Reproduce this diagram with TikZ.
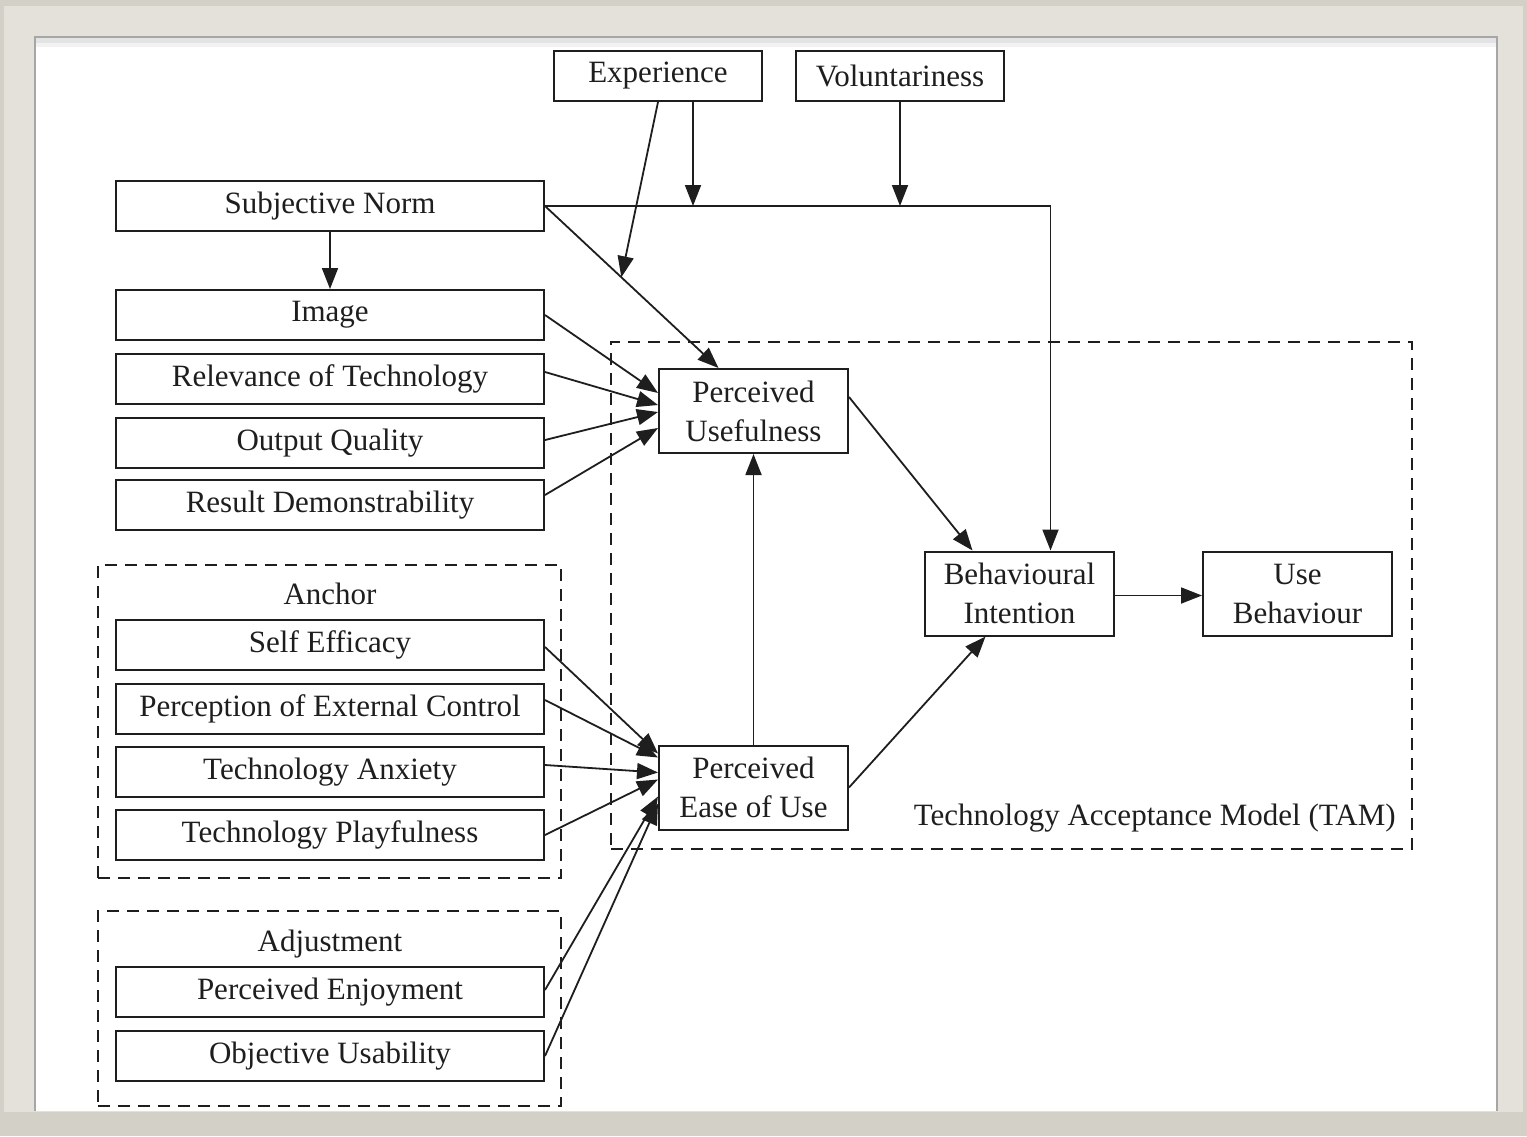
\documentclass[tikz,border=0pt]{standalone}
\usepackage{fontspec}
\setmainfont{Liberation Serif}
\usetikzlibrary{arrows.meta,calc}
\definecolor{framebg}{HTML}{E4E1DA}
\definecolor{framedark}{HTML}{D3D0C8}
\definecolor{ink}{HTML}{1E1E1E}
\begin{document}
\begin{tikzpicture}[x=0.5pt,y=-0.5pt,
 txt/.style={text=ink,font=\fontsize{15.5}{19.5}\selectfont,align=center},
 box/.style={txt,draw=ink,line width=1pt,inner sep=0pt},
 wide/.style={box,minimum width=214pt,minimum height=25pt},
 tambox/.style={box,minimum width=94.5pt,minimum height=42pt},
 topbox/.style={box,minimum width=104pt,minimum height=25pt},
 arr/.style={draw=ink,line width=0.9pt,-{Triangle[length=10.5pt,width=8pt]}},
 grp/.style={draw=ink,line width=0.9pt,dash pattern=on 6pt off 4pt,inner sep=0pt},
 lbl/.style={txt,inner sep=0pt}]
\useasboundingbox (0,0) rectangle (1527,1136);
% frame
\fill[framedark] (0,0) rectangle (1527,1136);
\fill[framebg] (4,6) rectangle (1523,1112);
\fill[white] (35,37) rectangle (1497,1111);
\draw[gray!70,line width=1pt] (35,1111) -- (35,37) -- (1497,37) -- (1497,1111);
\fill[gray!22] (36,38) rectangle (1496,43);
\fill[gray!10] (36,43) rectangle (1496,47);

% groups
\node[grp,minimum width=231.5pt,minimum height=156.5pt] (anchorgrp) at (329.5,721.5) {};
\node[grp,minimum width=231.5pt,minimum height=97.5pt] (adjgrp) at (329.5,1008.5) {};
\node[grp,minimum width=400.5pt,minimum height=253.5pt] (tamgrp) at (1011.5,595.5) {};

% top boxes
\node[topbox] (exp) at (658,76) {Experience};
\node[topbox] (vol) at (900,76) {Voluntariness};

% left column
\node[wide] (sn) at (330,206) {Subjective Norm};
\node[wide] (img) at (330,315) {Image};
\node[wide] (rel) at (330,379) {Relevance of Technology};
\node[wide] (oq) at (330,443) {Output Quality};
\node[wide] (rd) at (330,505) {Result Demonstrability};
\node[lbl] (anchorlbl) at (330,594) {Anchor};
\node[wide] (se) at (330,645) {Self Efficacy};
\node[wide] (pec) at (330,709) {Perception of External Control};
\node[wide] (ta) at (330,772) {Technology Anxiety};
\node[wide] (tp) at (330,835) {Technology Playfulness};
\node[lbl] (adjlbl) at (330,944) {Adjustment};
\node[wide] (pe) at (330,992) {Perceived Enjoyment};
\node[wide] (ou) at (330,1056) {Objective Usability};

% TAM
\node[tambox] (pu) at (753.5,411) {Perceived\\Usefulness};
\node[tambox] (peou) at (753.5,787.5) {Perceived\\Ease of Use};
\node[tambox] (bi) at (1019.5,593.5) {Behavioural\\Intention};
\node[tambox] (ub) at (1297.5,593.5) {Use\\Behaviour};
\node[lbl,anchor=east] (tamlbl) at (1396,818) {Technology Acceptance Model (TAM)};

% connectors
\draw[arr] (sn.south) -- (img.north);
\draw[arr] (sn.east) -| ([xshift=15.5pt]bi.north);
\draw[arr] (sn.east) -- ([xshift=-17.5pt]pu.north);
\coordinate (expend) at ($(sn.east)!0.44!([xshift=-17.5pt]pu.north)$);
\draw[arr] (exp.south) -- (expend);
\draw[arr] ([xshift=17.5pt]exp.south) -- ([xshift=17.5pt]exp.south |- sn.east);
\draw[arr] (vol.south) -- (vol.south |- sn.east);

\draw[arr] (img.east) -- ([yshift=9pt]pu.west);
\draw[arr] ([yshift=3.5pt]rel.east) -- ([yshift=3pt]pu.west);
\draw[arr] ([yshift=1.5pt]oq.east) -- ([yshift=-0.5pt]pu.west);
\draw[arr] ([yshift=5pt]rd.east) -- ([yshift=-8.5pt]pu.west);

\draw[arr] ([yshift=7pt]pu.east) -- ([xshift=-23.5pt]bi.north);
\draw[arr] (peou.north) -- (pu.south);
\draw[arr] (peou.east) -- ([xshift=-17pt]bi.south);
\draw[arr] ([yshift=-1pt]bi.east) -- ([yshift=-1pt]ub.west);

\draw[arr] ([yshift=-1pt]se.east) -- ([yshift=17pt]peou.west);
\draw[arr] ([yshift=4.5pt]pec.east) -- ([yshift=15pt]peou.west);
\draw[arr] ([yshift=3.5pt]ta.east) -- ([yshift=7.5pt]peou.west);
\draw[arr] (tp.east) -- ([yshift=4pt]peou.west);
\draw[arr] ([yshift=1pt]pe.east) -- ([yshift=-4.5pt]peou.west);
\draw[arr] (ou.east) -- ([yshift=-8pt]peou.west);
\end{tikzpicture}
\end{document}
